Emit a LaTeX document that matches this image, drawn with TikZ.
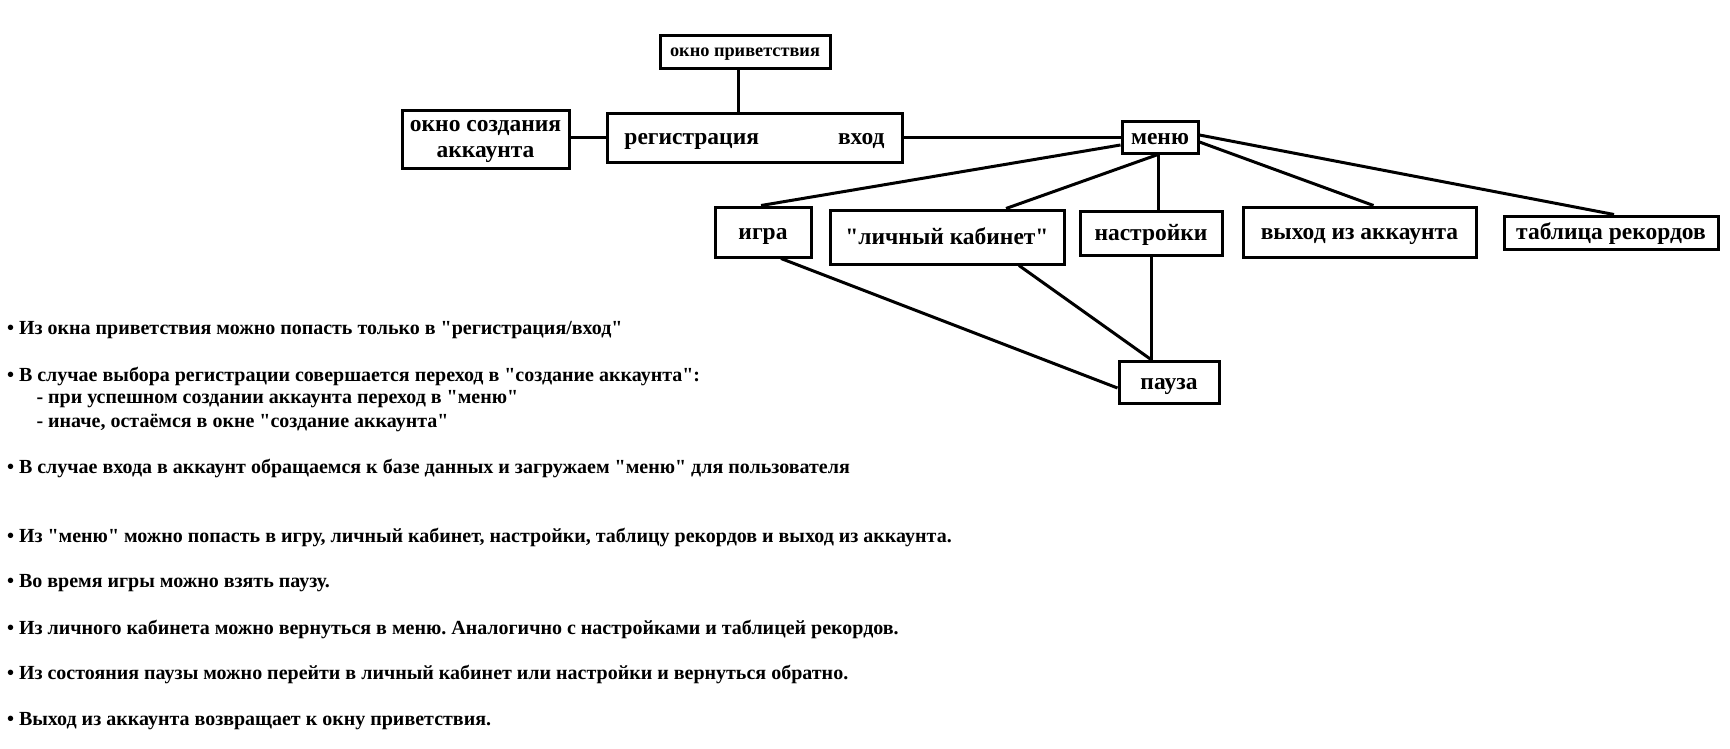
\documentclass[tikz,border=0pt]{standalone}
\usepackage{fontspec}
\setmainfont[Ligatures=TeXOff]{Liberation Serif}
\frenchspacing
\begin{document}
\begin{tikzpicture}[x=1pt, y=-1pt, line width=3pt,
  main/.style = {draw, line width=3pt, inner sep=0pt, text height=20pt, text depth=6pt, font=\bfseries\fontsize{23.5}{26}\selectfont},
  note/.style = {anchor=west, inner sep=0pt, font=\bfseries\fontsize{20}{23}\selectfont}]
\useasboundingbox (0,0) rectangle (1730,748);
% окна
\node[main, minimum width=170pt, minimum height=33pt, text height=15pt, text depth=5pt, font=\bfseries\fontsize{18.3}{21}\selectfont] (welcome) at (745,51.5) {окно приветствия};
\node[main, minimum width=167pt, minimum height=58pt, text height={}, text depth={}] (create) at (485.5,139) {\begin{tabular}{@{}c@{}}окно создания\\аккаунта\end{tabular}};
\node[main, minimum width=295pt, minimum height=49pt] (reg) at (754.5,137.5) {регистрация\hspace{79pt}вход};
\node[main, minimum width=76pt, minimum height=32pt] (menu) at (1160,137) {меню};
\node[main, minimum width=96pt, minimum height=50pt] (igra) at (763,232) {игра};
\node[main, minimum width=234pt, minimum height=54pt] (cab) at (947,237) {"личный кабинет"};
\node[main, minimum width=142pt, minimum height=44pt] (nastr) at (1151,233) {настройки};
\node[main, minimum width=233pt, minimum height=50pt] (exit) at (1359.5,232) {выход из аккаунта};
\node[main, minimum width=214pt, minimum height=33pt] (table) at (1611,232.5) {таблица рекордов};
\node[main, minimum width=100pt, minimum height=42pt] (pause) at (1169,382) {пауза};

% переходы
\draw ([xshift=-7pt]welcome.south) -- ([xshift=-7pt]welcome.south |- reg.north);
\draw (reg.west -| create.east) -- (reg.west);
\draw (reg.east) -- (reg.east -| menu.west);
\draw ([yshift=-8pt]menu.west) -- ([xshift=-2pt]igra.north);
\draw ([xshift=-2pt]menu.south) -- ([xshift=59pt]cab.north);
\draw ([xshift=-2pt]menu.south) -- ([xshift=-2pt]menu.south |- nastr.north);
\draw ([yshift=-5pt]menu.east) -- ([xshift=14pt]exit.north);
\draw ([yshift=2pt]menu.east) -- ([xshift=3pt]table.north);
\draw ([xshift=18pt]igra.south) -- ([yshift=-6pt]pause.west);
\draw ([xshift=72pt]cab.south) -- ([xshift=-18pt]pause.north);
\draw (nastr.south) -- (nastr.south |- pause.north);

% пояснения
\node[note] (t1) at (5.5,330) {• Из окна приветствия можно попасть только в "регистрация/вход"};
\node[note] (t2) at (5.5,376) {• В случае выбора регистрации совершается переход в "создание аккаунта":};
\node[note] (t3) at (35,399) {- при успешном создании аккаунта переход в "меню"};
\node[note] (t4) at (35,423) {- иначе, остаёмся в окне "создание аккаунта"};
\node[note] (t5) at (5.5,468) {• В случае входа в аккаунт обращаемся к базе данных и загружаем "меню" для пользователя};
\node[note] (t6) at (5.5,537) {• Из "меню" можно попасть в игру, личный кабинет, настройки, таблицу рекордов и выход из аккаунта.};
\node[note] (t7) at (5.5,583) {• Во время игры можно взять паузу.};
\node[note] (t8) at (5.5,629) {• Из личного кабинета можно вернуться в меню. Аналогично с настройками и таблицей рекордов.};
\node[note] (t9) at (5.5,674) {• Из состояния паузы можно перейти в личный кабинет или настройки и вернуться обратно.};
\node[note] (t10) at (5.5,721) {• Выход из аккаунта возвращает к окну приветствия.};
\end{tikzpicture}
\end{document}
